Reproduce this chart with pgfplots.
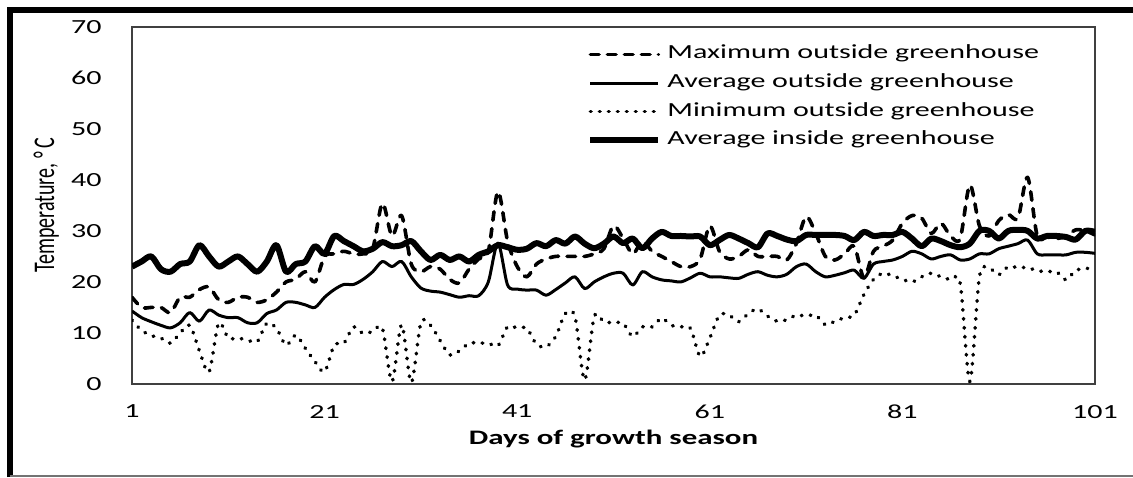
\documentclass[border=0pt]{standalone}
\usepackage{fontspec}
\usepackage{graphicx}
\usepackage{pgfplots}
\usepackage{pgfplotstable}
\pgfplotsset{compat=1.18}
\setmainfont{Carlito}[FakeStretch=1.5]
\newfontfamily\plainfont{Carlito}

% Daily temperatures (deg C) over the growth season
\pgfplotstableread{
day max avg min in
1 17 14.3 12.5 23
2 15 13 10.5 24
3 15 12.2 9.5 25
4 15 11.5 9 22.5
5 14 11 8 22
6 17 12 10 23.5
7 17 14 11.5 24
8 18.5 12.3 6.5 27.2
9 19 14.5 2.4 25
10 16.5 13.5 11.9 23
11 16 13 9 24
12 17 13 9 25
13 17 12 8.6 23.5
14 16 12 8.3 22
15 16.5 13.8 11.9 24
16 18 14.5 10.9 27.2
17 20 16 7.6 22
18 20.5 16 9.6 23.5
19 22 15.5 7 24
20 20 15 4.4 27
21 25 17 2.4 25.5
22 25.5 18.5 7.6 29
23 26 19.5 8 28
24 25.5 19.5 11.2 27
25 25.5 20.5 9.9 26
26 26.5 22 10.3 26.5
27 35.4 24 10.9 27.8
28 29 23 0.5 27
29 33 24 11.6 27.2
30 23.5 21 0.3 28
31 22 18.8 12 26
32 23 18.2 11.5 24.3
33 22.5 18 8.5 25.3
34 20.5 17.5 5.7 24.3
35 19.8 17 6.5 25
36 22.5 17.3 8 24
37 24.5 17.3 8 25.3
38 26 20 8 26
39 37.7 27.6 7.5 27.2
40 28 19.4 11.2 26.8
41 23 18.6 11 26.3
42 21 18.4 10.9 26.5
43 23.5 18.4 7.8 27.6
44 24.5 17.4 7.3 27
45 25 18.5 9.3 28.2
46 25 19.8 13.8 27.5
47 25 21 13.2 28.9
48 25 18.7 0.8 27.5
49 25.5 20 13.2 26.6
50 26.5 21 12.2 27.5
51 31 21.7 12 28.9
52 28.5 21.7 11.9 27.6
53 25.5 19.4 9.3 28.5
54 28 22 11.2 26.6
55 26 21 11.2 28.5
56 25 20.4 12.9 29.8
57 24 20.2 11.5 29
58 23 20 11.2 29
59 23 20.8 10.9 28.9
60 24.5 21.7 5.4 28.9
61 31 21 9 27.2
62 26 21 13.5 28.2
63 24.5 20.8 13.5 29.2
64 25 20.7 12.2 28.5
65 26.3 21.5 13.8 27.6
66 25 22 14.7 26.8
67 25 21.3 13.3 29.5
68 25 21 12.3 29
69 24.3 21.5 12.6 28.3
70 27.6 23 13.5 28
71 32.8 23.5 13.3 29.2
72 29.5 22 13.5 29.2
73 25 21 11.6 29.2
74 24.3 21.3 12.3 29.2
75 25.5 21.8 13 29
76 27 22.3 13.5 28.2
77 20.8 20.7 17.5 29.8
78 26 23.5 20.5 29
79 27 24 21.7 29.2
80 28.2 24.3 21.2 29.2
81 31.5 25 20.5 29.8
82 33 26 20 28.5
83 32.5 25.5 21 27
84 29.5 24.5 21.7 28.5
85 31.5 25 21 28
86 29 25.3 20.4 27.2
87 28.5 24.3 19.7 26.8
88 39 24.5 0.5 27.5
89 31 25.5 21 30
90 29 25.5 22.7 30
91 32 26.5 21.4 28.5
92 33.2 27 23 30
93 32.5 27.5 22.8 30.2
94 40.5 28.2 22.8 30
95 29 25.5 22.2 28.5
96 28.8 25.3 22 29
97 28.5 25.3 22 29
98 29 25.3 20.4 28.8
99 30.2 25.8 22.3 28.3
100 30 25.8 22.5 30
101 29.2 25.6 23.3 29.8
}\temps

\begin{document}
\begin{tikzpicture}
\useasboundingbox (0,0) rectangle (566.5pt,238.5pt);
% outer frame
\draw[black, line width=3.2pt] (5pt,0pt) -- (5pt,233.5pt) -- (566.5pt,233.5pt);
\draw[black!55, line width=0.8pt] (5pt,0.6pt) -- (566.5pt,0.6pt);
\begin{axis}[
  at={(66pt,46.5pt)}, anchor=south west,
  scale only axis, width=481.5pt, height=178.65pt,
  xmin=1, xmax=101, ymin=0, ymax=70,
  xtick={1,21,41,61,81,101},
  ytick={0,10,...,70},
  major tick length=0pt,
  axis line style={draw=black!75, line width=1.1pt},
  /pgf/number format/assume math mode=true,
  tick label style={font=\fontsize{10}{12}\selectfont},
  yticklabel style={xshift=-11.7pt},
  xticklabel style={yshift=-7pt},
  xlabel={\bfseries Days of growth season},
  xlabel style={at={(axis description cs:0.5,-0.1707)}, anchor=base, font=\fontsize{10.3}{12}\selectfont},
  ylabel={\plainfont\scalebox{1}[1.5]{Temperature, °\,C}},
  ylabel style={at={(axis description cs:-0.081,0.5)}, anchor=base, rotate=0},
  legend cell align=left,
  legend image code/.code={\draw[#1] (0pt,0pt) -- (34pt,0pt);},
  legend style={at={(axis description cs:0.4725,0.9502)}, anchor=north west,
    draw=none, fill=none, inner sep=0pt, column sep=3pt, row sep=4.8pt,
    nodes={inner sep=0pt, text height=7pt, text depth=2.5pt},
    font=\fontsize{10}{12}\selectfont},
  every axis plot/.append style={black, smooth, tension=0.5, line join=round},
]
\addplot[line width=1.8pt, line cap=round, dash pattern=on 4.3pt off 4.2pt]
  table[x=day, y=max] {\temps};
\addlegendentry{Maximum outside greenhouse}
\addplot[line width=1.5pt]
  table[x=day, y=avg] {\temps};
\addlegendentry{Average outside greenhouse}
\addplot[line width=1.8pt, line cap=round, dash pattern=on 0.3pt off 4.2pt]
  table[x=day, y=min] {\temps};
\addlegendentry{Minimum outside greenhouse}
\addplot[line width=3pt]
  table[x=day, y=in] {\temps};
\addlegendentry{Average inside greenhouse}
\end{axis}
\end{tikzpicture}
\end{document}
